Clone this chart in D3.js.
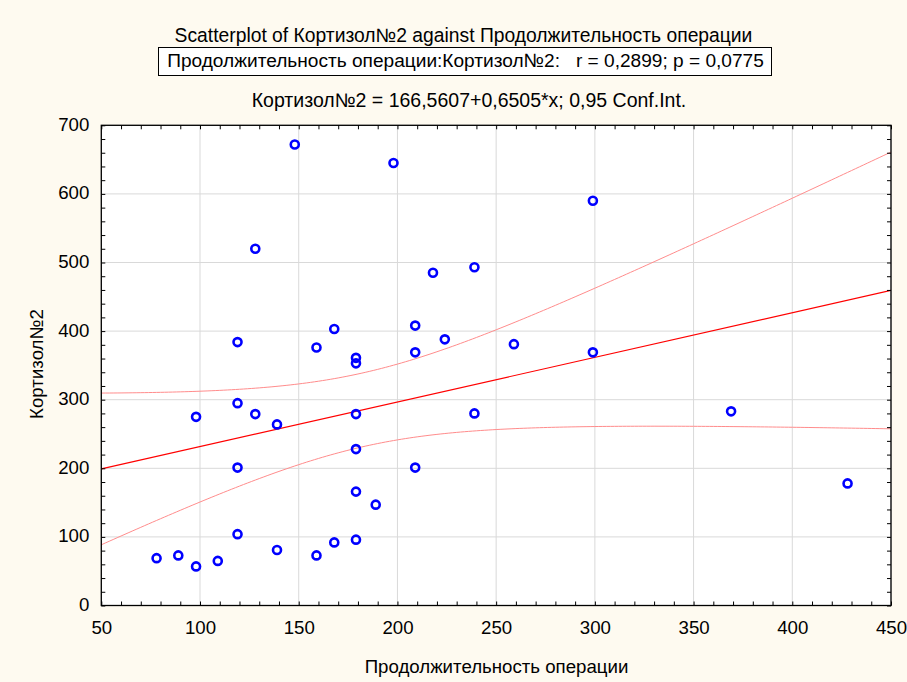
<!DOCTYPE html>
<html><head><meta charset="utf-8">
<script src="https://cdn.jsdelivr.net/npm/d3@7"></script>
<style>
body{margin:0;background:#fefaf0;}
svg{display:block;font-family:"Liberation Sans",Arial,sans-serif;}
</style>
</head><body>
<svg id="c" width="907" height="682"></svg>
<script>
// ---- data ----
const duration = [148,128,119,168,159,179,179,98,119,128,139,179,119,179,179,189,119,78,89,98,109,139,159,168,179,198,299,218,239,209,224,209,259,299,239,209,369,428];
const cortisol = [672,520,384,403,376,361,353,275,295,279,264,279,201,228,166,147,104,69,73,57,65,81,73,92,96,645,590,485,493,408,388,369,381,369,280,201,283,178];
const xTicks = [50,100,150,200,250,300,350,400,450];
const yTicks = [0,100,200,300,400,500,600,700];
const intercept = 166.5607, slope = 0.6505;
const tCrit = 2.028; // t(0.975, df=36)

const titleText = "Scatterplot of Кортизол№2 against Продолжительность операции";
const statText = "Продолжительность операции:Кортизол№2:   r = 0,2899; p = 0,0775";
const eqText = "Кортизол№2 = 166,5607+0,6505*x; 0,95 Conf.Int.";
const xLabel = "Продолжительность операции";
const yLabel = "Кортизол№2";

const FS = 18.67;
const svg = d3.select("#c");
const L = 101.3, R = 891, T = 125.3, B = 605.5;
const x = d3.scaleLinear().domain([50,450]).range([L,R]);
const y = d3.scaleLinear().domain([0,700]).range([B,T]);

// plot background
svg.append("rect").attr("x",L).attr("y",T).attr("width",R-L).attr("height",B-T).attr("fill","#fff");

// grid
const grid = svg.append("g").attr("stroke","#d9d9d9").attr("stroke-width",1);
xTicks.forEach(v=>grid.append("line").attr("x1",x(v)).attr("x2",x(v)).attr("y1",T).attr("y2",B));
yTicks.forEach(v=>grid.append("line").attr("y1",y(v)).attr("y2",y(v)).attr("x1",L).attr("x2",R));

// confidence band
const n = duration.length;
const mx = d3.mean(duration);
const sxx = d3.sum(duration, v=>(v-mx)*(v-mx));
const sse = d3.sum(duration.map((v,i)=>{const r = cortisol[i]-(intercept+slope*v); return r*r;}));
const s = Math.sqrt(sse/(n-2));
const xs = d3.range(50,451,2);
const half = v => tCrit*s*Math.sqrt(1/n + (v-mx)*(v-mx)/sxx);
svg.append("clipPath").attr("id","pc").append("rect").attr("x",L).attr("y",T).attr("width",R-L).attr("height",B-T);
const lineG = svg.append("g").attr("clip-path","url(#pc)");
const ln = d3.line().x(d=>x(d[0])).y(d=>y(d[1]));
lineG.append("path").attr("d",ln(xs.map(v=>[v,intercept+slope*v+half(v)]))).attr("fill","none").attr("stroke","#ff8c8c").attr("stroke-width",1);
lineG.append("path").attr("d",ln(xs.map(v=>[v,intercept+slope*v-half(v)]))).attr("fill","none").attr("stroke","#ff8c8c").attr("stroke-width",1);
lineG.append("path").attr("d",ln([[50,intercept+slope*50],[450,intercept+slope*450]])).attr("fill","none").attr("stroke","#ff0000").attr("stroke-width",1.2);

// points
svg.append("g").selectAll("circle").data(duration).join("circle")
  .attr("cx",(d)=>x(d)).attr("cy",(d,i)=>y(cortisol[i])).attr("r",4)
  .attr("fill","none").attr("stroke","#0000ff").attr("stroke-width",2.6);

// axes with inward ticks
const minorX = d3.range(50,451,10), minorY = d3.range(0,701,20);
const fmt = d3.format("d");
svg.append("g").attr("transform",`translate(0,${B})`)
  .call(d3.axisBottom(x).tickValues(minorX).tickSizeInner(-4).tickSizeOuter(0).tickFormat(""))
  .call(g=>g.select(".domain").remove());
svg.append("g").attr("transform",`translate(0,${T})`)
  .call(d3.axisTop(x).tickValues(minorX).tickSizeInner(-4).tickSizeOuter(0).tickFormat(""))
  .call(g=>g.select(".domain").remove());
svg.append("g").attr("transform",`translate(${L},0)`)
  .call(d3.axisLeft(y).tickValues(minorY).tickSizeInner(-4).tickSizeOuter(0).tickFormat(""))
  .call(g=>g.select(".domain").remove());
svg.append("g").attr("transform",`translate(${R},0)`)
  .call(d3.axisRight(y).tickValues(minorY).tickSizeInner(-4).tickSizeOuter(0).tickFormat(""))
  .call(g=>g.select(".domain").remove());
svg.selectAll(".tick line").attr("stroke","#000");

// tick labels
svg.append("g").attr("transform",`translate(0,${B})`)
  .call(d3.axisBottom(x).tickValues(xTicks).tickSize(0).tickPadding(15.5).tickFormat(fmt))
  .call(g=>g.select(".domain").remove())
  .selectAll("text").attr("font-size",FS).attr("fill","#000").attr("font-family","Liberation Sans, Arial, sans-serif");
svg.append("g").attr("transform",`translate(${L},0)`)
  .call(d3.axisLeft(y).tickValues(yTicks).tickSize(0).tickPadding(12).tickFormat(fmt))
  .call(g=>g.select(".domain").remove())
  .selectAll("text").attr("font-size",FS).attr("fill","#000").attr("dy","0.27em").attr("font-family","Liberation Sans, Arial, sans-serif");

// frame
svg.append("rect").attr("x",L).attr("y",T).attr("width",R-L).attr("height",B-T).attr("fill","none").attr("stroke","#000").attr("stroke-width",1.3);

// titles
svg.append("text").attr("x",463.5).attr("y",42).attr("text-anchor","middle").attr("font-size",19.3).text(titleText);
svg.append("rect").attr("x",158.5).attr("y",47.5).attr("width",613).attr("height",28).attr("fill","#fff").attr("stroke","#000").attr("stroke-width",1);
svg.append("text").attr("x",465.5).attr("y",67).attr("text-anchor","middle").attr("font-size",19.1).attr("xml:space","preserve").style("white-space","pre").text(statText);
svg.append("text").attr("x",469).attr("y",106.5).attr("text-anchor","middle").attr("font-size",19.5).text(eqText);
svg.append("text").attr("x",496.5).attr("y",673).attr("text-anchor","middle").attr("font-size",FS).text(xLabel);
svg.append("text").attr("transform","translate(42.5,364) rotate(-90)").attr("text-anchor","middle").attr("font-size",FS).text(yLabel);
</script>
</body></html>
